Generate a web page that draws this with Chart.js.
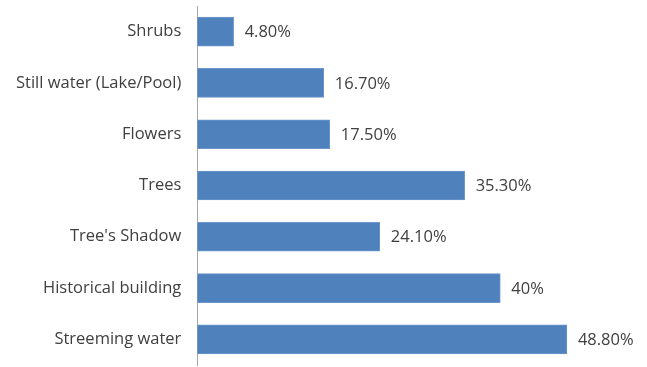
<!DOCTYPE html>
<html>
<head>
<meta charset="utf-8">
<script src="https://cdn.jsdelivr.net/npm/chart.js@4"></script>
<style>
	html, body { margin: 0; padding: 0; background: #fff; }
	canvas { display: block; }
</style>
</head>
<body>
<canvas id="chart" width="647" height="367"></canvas>
<script>
	const categories = ['Shrubs', 'Still water (Lake/Pool)', 'Flowers', 'Trees', "Tree's Shadow", 'Historical building', 'Streeming water'];
	const values = [4.8, 16.7, 17.5, 35.3, 24.1, 40, 48.8];
	const valueLabels = ['4.80%', '16.70%', '17.50%', '35.30%', '24.10%', '40%', '48.80%'];

	const fontFamily = '"Open Sans", "Noto Sans", sans-serif';

	// value labels to the right of each bar
	const barLabels = {
		id: 'barLabels',
		afterDatasetsDraw(chart) {
			const ctx = chart.ctx;
			const meta = chart.getDatasetMeta(0);
			ctx.save();
			ctx.font = '16.5px ' + fontFamily;
			ctx.fillStyle = '#404040';
			ctx.textBaseline = 'middle';
			ctx.textAlign = 'left';
			meta.data.forEach((bar, i) => {
				ctx.fillText(valueLabels[i], bar.x + 11, bar.y + 1);
			});
			ctx.restore();
		}
	};

	new Chart(document.getElementById('chart').getContext('2d'), {
		type: 'bar',
		data: {
			labels: categories,
			datasets: [
				{
					data: values,
					backgroundColor: '#4f81bd',
					borderColor: '#6b97cc',
					borderWidth: 1,
					borderSkipped: 'left',
					barThickness: 29
				}
			]
		},
		options: {
			indexAxis: 'y',
			responsive: false,
			animation: false,
			layout: {
				padding: { top: 6, bottom: 2, right: 71, left: 0 }
			},
			plugins: {
				legend: { display: false },
				tooltip: { enabled: false }
			},
			scales: {
				x: {
					display: false,
					min: 0,
					max: 50
				},
				y: {
					grid: { display: false, drawTicks: false },
					border: { display: true, color: '#a6a6a6', width: 1 },
					ticks: {
						color: '#404040',
						padding: 16,
						font: { family: fontFamily, size: 16.5 }
					},
					// labels sit inside the category bands, no extra room needed
					afterFit: scale => {
						scale.paddingTop = 0;
						scale.paddingBottom = 0;
					}
				}
			}
		},
		plugins: [barLabels]
	});
</script>
</body>
</html>
